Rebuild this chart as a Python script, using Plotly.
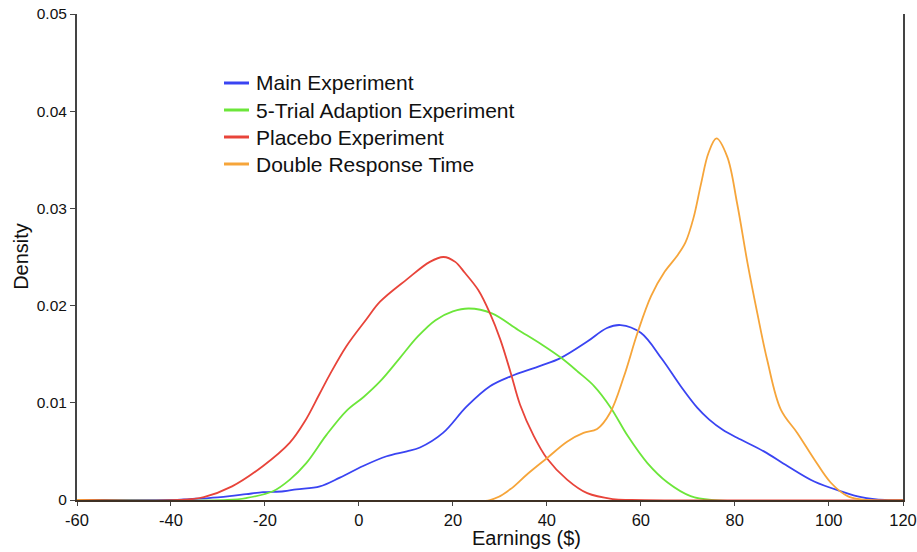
import plotly.graph_objects as go

# Earnings ($) and density values
main_x = [-60, -40, -36, -32, -27.5, -24, -20.4, -16, -13.3, -8.3, -4.05, 0.9, 5.9, 10.2, 13, 17.9, 22.9, 27.9,
          32.2, 38.6, 42.9, 48.6, 52.8, 55.7, 60, 64.5, 68.5, 72, 74.5, 77.5, 80.5, 86.2, 91.2, 96.9, 102.6,
          106.9, 112, 120]
main_y = [0, 0, 0.0001, 0.0002, 0.0004, 0.0006, 0.0008, 0.0009, 0.0011, 0.0014, 0.0023, 0.0035, 0.0045, 0.005,
          0.0054, 0.0069, 0.0096, 0.0117, 0.0127, 0.0138, 0.0146, 0.0163, 0.0177, 0.018, 0.0172, 0.0145, 0.0117,
          0.0095, 0.0083, 0.0072, 0.0064, 0.005, 0.0035, 0.0019, 0.0009, 0.0003, 0, 0]

trial_x = [-60, -28, -24, -18.3, -14.7, -11.2, -6.9, -2.6, 1, 4.5, 8.7, 12.5, 16.3, 20, 23.4, 28.3, 33.9, 38.9,
           43.1, 46.6, 50.1, 53.6, 57.2, 61.4, 65.7, 70.6, 75, 120]
trial_y = [0, 0, 0.0002, 0.0009, 0.0021, 0.0038, 0.0067, 0.0092, 0.0106, 0.0122, 0.0146, 0.0168, 0.0185, 0.0194,
           0.0197, 0.0192, 0.0175, 0.016, 0.0146, 0.0132, 0.0117, 0.0095, 0.0066, 0.0038, 0.0018, 0.0004, 0, 0]

placebo_x = [-60, -38, -33, -27, -20.4, -14.7, -11.5, -8.5, -6.2, -2.7, 1.6, 4.5, 10.2, 15.1, 18, 20.5, 22.5,
             25.4, 27.9, 30.1, 32.3, 34.3, 37.2, 40, 44.3, 48.6, 54, 58, 120]
placebo_y = [0, 0, 0.0003, 0.0014, 0.0035, 0.0059, 0.0081, 0.0108, 0.0129, 0.0158, 0.0186, 0.0204, 0.0227,
             0.0245, 0.025, 0.0245, 0.0234, 0.0216, 0.0192, 0.0165, 0.0131, 0.0098, 0.0066, 0.0043, 0.0021,
             0.0007, 0.0001, 0, 0]

double_x = [-60, 27.9, 32.2, 35.7, 40, 44.3, 47.8, 50.7, 53.5, 56.4, 59.3, 62.2, 65.1, 67.7, 69.5, 71.2, 72.8,
            74.4, 76.1, 78.4, 80.5, 82.7, 84.8, 86.9, 89.8, 93.3, 96.9, 100.4, 104, 108, 120]
double_y = [0, 0, 0.0011, 0.0026, 0.0043, 0.006, 0.0069, 0.0073, 0.009, 0.0127, 0.0172, 0.021, 0.0235, 0.0251,
            0.0265, 0.029, 0.0325, 0.0357, 0.0372, 0.0353, 0.0305, 0.0244, 0.0192, 0.0144, 0.0093, 0.0069,
            0.0042, 0.0018, 0.0004, 0, 0]

x_tick_vals = [-60, -40, -20, 0, 20, 40, 60, 80, 100, 115.8]
x_tick_text = ["-60", "-40", "-20", "0", "20", "40", "60", "80", "100", "120"]
y_tick_vals = [0, 0.01, 0.02, 0.03, 0.04, 0.05]
y_tick_text = ["0", "0.01", "0.02", "0.03", "0.04", "0.05"]

series = [
    ("Main Experiment", main_x, main_y, "#3a44f2"),
    ("5-Trial Adaption Experiment", trial_x, trial_y, "#6ce63a"),
    ("Placebo Experiment", placebo_x, placebo_y, "#e8443a"),
    ("Double Response Time", double_x, double_y, "#f6a53a"),
]

FONT = "Liberation Sans, Arial, Helvetica, sans-serif"
W, H = 917, 552
ML, MR, MT, MB = 77, 14, 14, 52
PW, PH = W - ML - MR, H - MT - MB


def px_x(p):
    return (p - ML) / PW


def px_y(p):
    return (H - MB - p) / PH


fig = go.Figure()
for name, xs, ys, col in series:
    fig.add_trace(go.Scatter(
        x=xs, y=ys, name=name, mode="lines", showlegend=False,
        line=dict(color=col, width=1.8, shape="spline", smoothing=1.0),
    ))

# legend drawn as paper-positioned samples + labels
annotations = []
shapes = []
for i, (name, _, _, col) in enumerate(series):
    row = 83 + 27 * i
    shapes.append(dict(type="line", xref="paper", yref="paper",
                       x0=px_x(224), x1=px_x(249), y0=px_y(row), y1=px_y(row),
                       line=dict(color=col, width=3)))
    annotations.append(dict(text=name, xref="paper", yref="paper", x=px_x(254), y=px_y(row),
                            xanchor="left", yanchor="middle", showarrow=False,
                            font=dict(size=21, family=FONT, color="#111")))

annotations += [
    dict(text="Earnings ($)", xref="paper", yref="paper", x=0.544, y=-0.078,
         xanchor="center", yanchor="middle", showarrow=False,
         font=dict(size=20, family=FONT, color="#111")),
    dict(text="Density", xref="paper", yref="paper", x=-0.068, y=0.502,
         xanchor="center", yanchor="middle", showarrow=False, textangle=-90,
         font=dict(size=20, family=FONT, color="#111")),
]

fig.update_layout(
    width=W, height=H,
    margin=dict(l=ML, r=MR, t=MT, b=MB),
    paper_bgcolor="white", plot_bgcolor="white",
    font=dict(family=FONT, color="#111"),
    showlegend=False,
    xaxis=dict(
        range=[-60, 115.8], tickmode="array", tickvals=x_tick_vals, ticktext=x_tick_text,
        showgrid=False, zeroline=False, showline=True, linecolor="#3d3024", linewidth=2,
        ticks="outside", ticklen=4, tickcolor="#444", tickwidth=1, automargin=False,
        tickfont=dict(size=16.5, family=FONT, color="#111"),
    ),
    yaxis=dict(
        range=[0, 0.05], tickmode="array", tickvals=y_tick_vals, ticktext=y_tick_text,
        showgrid=False, zeroline=False, showline=True, mirror=True, linecolor="#444", linewidth=2,
        ticks="outside", ticklen=5, tickcolor="#444", tickwidth=1, automargin=False,
        tickfont=dict(size=15.5, family=FONT, color="#111"),
    ),
    annotations=annotations,
    shapes=shapes,
)

fig.write_html("out.html")
